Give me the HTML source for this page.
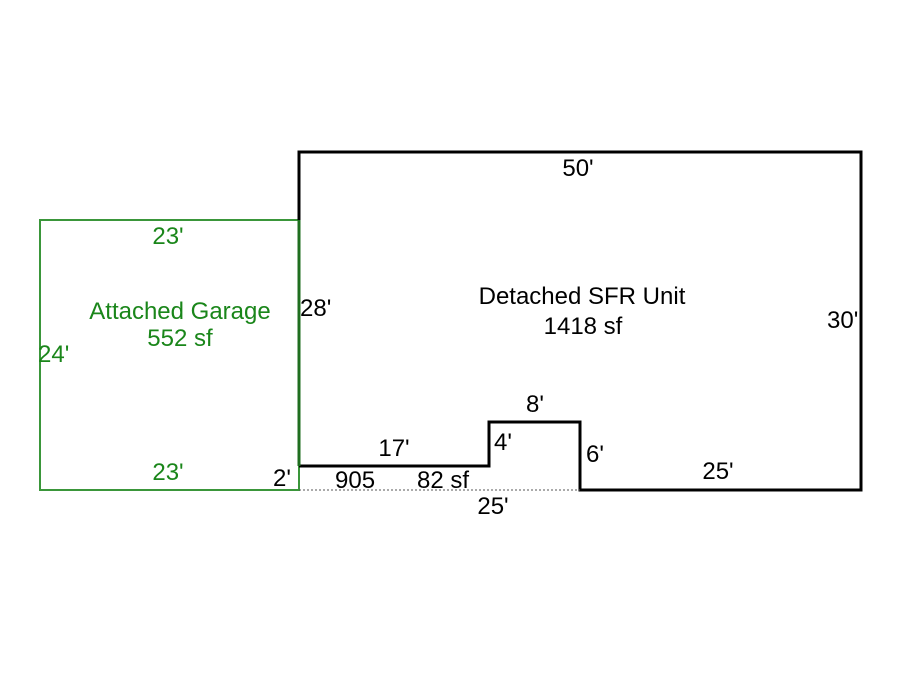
<!DOCTYPE html>
<html><head><meta charset="utf-8"><style>
html,body{margin:0;padding:0;background:#fff;width:900px;height:675px;overflow:hidden}
text{font-family:"Liberation Sans",Arial,sans-serif;font-size:24px}
</style></head><body>
<svg width="900" height="675" viewBox="0 0 900 675" xmlns="http://www.w3.org/2000/svg">
<rect x="40" y="220" width="259" height="270" fill="none" stroke="#3a963a" stroke-width="2"/>
<polyline points="299,466 299,152 861,152 861,490 580,490 580,422 489,422 489,466 299,466" fill="none" stroke="#000" stroke-width="3" stroke-linejoin="miter"/>
<line x1="299" y1="220" x2="299" y2="466" stroke="#1f6e1f" stroke-width="3"/>
<line x1="299" y1="490" x2="580" y2="490" stroke="#555" stroke-width="1" stroke-dasharray="2,2"/>
<g fill="#1a861a">
<text x="168" y="244" text-anchor="middle">23'</text>
<text x="180" y="319" text-anchor="middle">Attached Garage</text>
<text x="180" y="346" text-anchor="middle">552 sf</text>
<text x="38" y="362">24'</text>
<text x="168" y="480" text-anchor="middle">23'</text>
</g>
<g fill="#000">
<text x="578" y="176" text-anchor="middle">50'</text>
<text x="582" y="304" text-anchor="middle">Detached SFR Unit</text>
<text x="583" y="334" text-anchor="middle">1418 sf</text>
<text x="300" y="316">28'</text>
<text x="827" y="328">30'</text>
<text x="535" y="412" text-anchor="middle">8'</text>
<text x="394" y="456" text-anchor="middle">17'</text>
<text x="494" y="450">4'</text>
<text x="586" y="462">6'</text>
<text x="718" y="479" text-anchor="middle">25'</text>
<text x="273" y="486">2'</text>
<text x="335" y="488">905</text>
<text x="417" y="488">82 sf</text>
<text x="493" y="514" text-anchor="middle">25'</text>
</g>
</svg>
</body></html>
